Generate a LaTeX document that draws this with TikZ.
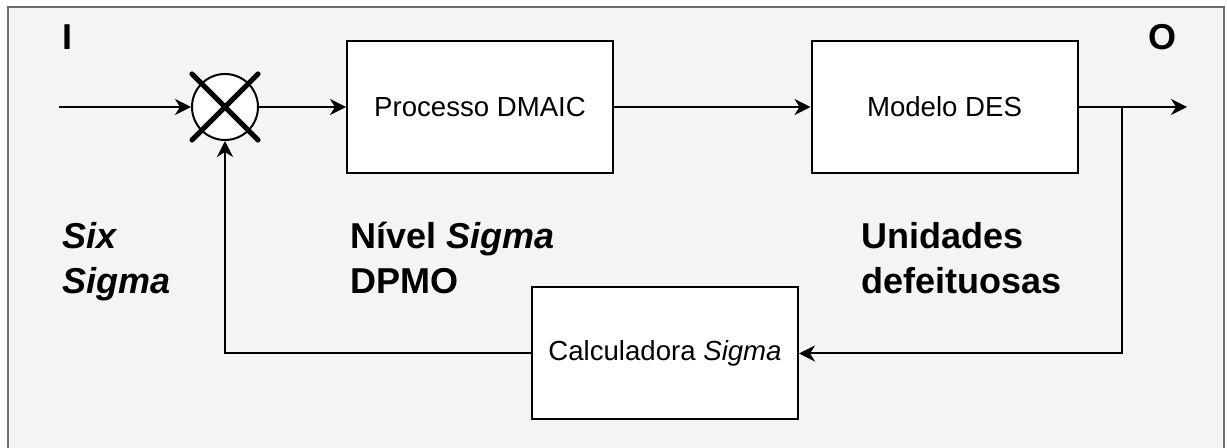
\documentclass[tikz,border=0pt]{standalone}
\usepackage{fontspec}
\setmainfont{Liberation Sans}
\usetikzlibrary{arrows.meta,calc}
\definecolor{panel}{HTML}{F4F4F4}
\definecolor{panelline}{HTML}{6E6E6E}
\tikzset{
  blockbox/.style={draw=black, fill=white, line width=1pt, minimum width=133pt,
    minimum height=66pt, inner sep=0pt, font=\fontsize{13.8}{16}\selectfont},
  mixer/.style={circle, draw=black, fill=white, line width=1pt, minimum size=33pt, inner sep=0pt},
  crossline/.style={line width=2.6pt, line cap=round},
  flow/.style={line width=1pt, -{Stealth[length=8pt,width=8pt,inset=2.5pt]}},
  biglabel/.style={inner sep=0pt, align=left, font=\bfseries\fontsize{18}{22.5}\selectfont},
}
\begin{document}
\begin{tikzpicture}[x=0.5pt,y=-0.5pt]
\useasboundingbox (0,0) rectangle (1227,448);
% background panel
\draw[panelline, fill=panel, line width=1.2pt] (8,7) rectangle (1224,470);

% blocks
\node[mixer] (sum) at (225,107) {};
\draw[crossline] ([shift={(-33,-33)}]sum.center) -- ([shift={(33,33)}]sum.center);
\draw[crossline] ([shift={(33,-33)}]sum.center) -- ([shift={(-33,33)}]sum.center);
\node[blockbox] (dmaic) at (480,107) {Processo DMAIC};
\node[blockbox] (des) at (944.5,107) {Modelo DES};
\node[blockbox] (calc) at (665,353.5) {Calculadora \textit{Sigma}};

% signal endpoints
\coordinate (in) at (59,107);
\coordinate (out) at (1187,107);
\coordinate (tap) at (1122,107);

% connectors
\draw[flow] (in) -- (sum.west);
\draw[flow] (sum.east) -- (dmaic.west);
\draw[flow] (dmaic.east) -- (des.west);
\draw[flow] (des.east) -- (out);
\draw[flow] (tap) |- (calc.east);
\draw[flow] (calc.west) -| (sum.south);

% labels
\node[biglabel, anchor=base west] (lin) at (62,50) {I};
\node[biglabel, anchor=base west] (lout) at (1148,50) {O};
\node[biglabel, anchor=north west] (lsix) at (62,222) {\textit{Six}\\\textit{Sigma}};
\node[biglabel, anchor=north west] (lnivel) at (350,222) {Nível \textit{Sigma}\\DPMO};
\node[biglabel, anchor=north west] (lunid) at (861,222) {Unidades\\defeituosas};
\end{tikzpicture}
\end{document}
